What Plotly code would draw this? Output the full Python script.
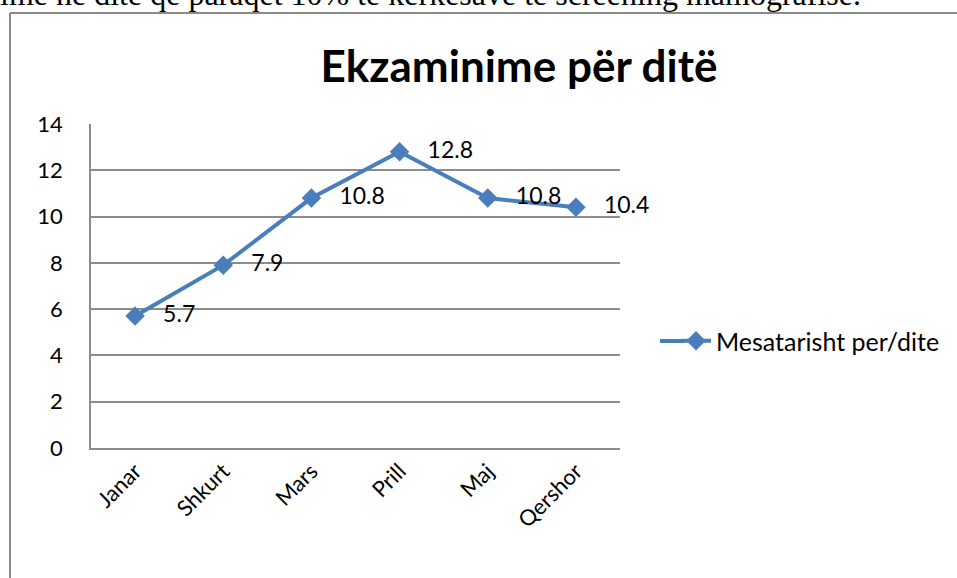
import plotly.graph_objects as go

months = ["Janar", "Shkurt", "Mars", "Prill", "Maj", "Qershor"]
values = [5.7, 7.9, 10.8, 12.8, 10.8, 10.4]
labels = ["5.7", "7.9", "10.8", "12.8", "10.8", "10.4"]
y_ticks = [0, 2, 4, 6, 8, 10, 12, 14]
series_name = "Mesatarisht per/dite"
title_text = "Ekzaminime për ditë"
doc_text = "ime në ditë që paraqet 10% të kërkesave të screening mamografisë."

W, H = 957, 578
L, R, T, B = 91, 620, 124, 448
FONT = "Lato, Open Sans, sans-serif"
BLUE = "#4A7EBB"
GRID = "#8C8C8C"

def px(x):
    return (x - L) / (R - L)

def py(y):
    return (B - y) / (B - T)

fig = go.Figure()
fig.add_trace(go.Scatter(
    x=months, y=values, name=series_name,
    mode="lines+markers+text",
    text=["\u00a0\u00a0\u00a0" + s for s in labels], textposition="middle right",
    textfont=dict(family=FONT, size=23, color="black"),
    line=dict(color=BLUE, width=4),
    marker=dict(symbol="diamond", size=15, color=BLUE),
    cliponaxis=False,
))

fig.update_layout(
    width=W, height=H,
    margin=dict(l=L, r=W - R, t=T, b=H - B, pad=0),
    paper_bgcolor="white", plot_bgcolor="white",
    showlegend=True,
    legend=dict(x=px(676), y=py(341), xanchor="left", yanchor="middle",
                font=dict(family=FONT, size=25, color="black"),
                bgcolor="rgba(0,0,0,0)"),
    title=dict(text="<b>" + title_text + "</b>", xref="container", x=519 / W,
               xanchor="center", y=1 - 67 / H, yanchor="middle",
               font=dict(family=FONT, size=44, color="black")),
    xaxis=dict(type="category", showgrid=False, showline=True, linecolor=GRID,
               linewidth=1.5, tickangle=-45, ticks="",
               tickfont=dict(family=FONT, size=22, color="black"),
               range=[-0.5, 5.5]),
    yaxis=dict(range=[0, 14], tickvals=y_ticks, showgrid=True, gridcolor=GRID,
               gridwidth=1.5, showline=True, linecolor=GRID, linewidth=1.5,
               ticks="", zeroline=False, ticklabelstandoff=22,
               tickfont=dict(family=FONT, size=22, color="black")),
)

# extend the legend line to the left, as in the reference legend key
fig.add_shape(type="line", xref="paper", yref="paper",
              x0=px(660), x1=px(684), y0=py(341), y1=py(341),
              line=dict(color=BLUE, width=4))

# document border around the chart (cut off on right and bottom)
fig.add_shape(type="line", xref="paper", yref="paper",
              x0=px(10), x1=px(10), y0=py(13), y1=py(600),
              line=dict(color="#8A8A8A", width=2))
fig.add_shape(type="line", xref="paper", yref="paper",
              x0=px(10), x1=px(1000), y0=py(13), y1=py(13),
              line=dict(color="#8A8A8A", width=2))

# cut-off document text above the chart
fig.add_annotation(xref="paper", yref="paper", x=px(-2), y=py(14),
                   xanchor="left", yanchor="bottom", showarrow=False,
                   text=doc_text,
                   font=dict(family="Liberation Serif, Times New Roman, serif",
                             size=32, color="black"))

fig.write_html("out.html", config={"displayModeBar": False},
               post_script="document.body.style.margin='0';")
